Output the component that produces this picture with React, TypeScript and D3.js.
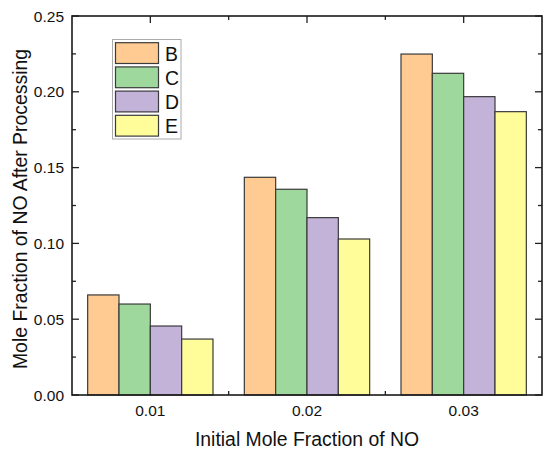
import React from "react";
import * as d3 from "d3";

const categories = [0.01, 0.02, 0.03];
const categoryLabels = ["0.01", "0.02", "0.03"];
const seriesNames = ["B", "C", "D", "E"];
const seriesB = [0.066, 0.1436, 0.2249];
const seriesC = [0.060, 0.1357, 0.2122];
const seriesD = [0.0455, 0.117, 0.1968];
const seriesE = [0.0369, 0.1029, 0.1869];
const seriesColors = ["#FFCB92", "#9FD89C", "#C3B3D9", "#FFFD9A"];
const yMajorTicks = [0, 0.05, 0.1, 0.15, 0.2, 0.25];
const yMinorTicks = [0.025, 0.075, 0.125, 0.175, 0.225];
const xMinorTicks = [0.015, 0.025];

const W = 550;
const H = 455;
const left = 72;
const right = 542;
const top = 16;
const bottom = 395;
const font = "Arial, 'Liberation Sans', Helvetica, sans-serif";

export default function App() {
  const series = [seriesB, seriesC, seriesD, seriesE];
  const x = d3.scaleLinear().domain([0.005, 0.035]).range([left, right]);
  const y = d3.scaleLinear().domain([0, 0.25]).range([bottom, top]);
  const groupW = 0.008;
  const barW = groupW / series.length;
  const fmt = d3.format(".2f");
  const major = 7;
  const minor = 4;

  return (
    <svg
      width={W}
      height={H}
      style={{ position: "absolute", left: 0, top: 0, background: "#fff" }}
      fontFamily={font}
    >
      <rect x={0} y={0} width={W} height={H} fill="#fff" />
      {/* ticks */}
      <g stroke="#222" strokeWidth={1.3}>
        {yMajorTicks.map((t) => (
          <g key={"ym" + t}>
            <line x1={left} x2={left + major} y1={y(t)} y2={y(t)} />
            <line x1={right} x2={right - major} y1={y(t)} y2={y(t)} />
          </g>
        ))}
        {yMinorTicks.map((t) => (
          <g key={"yn" + t}>
            <line x1={left} x2={left + minor} y1={y(t)} y2={y(t)} />
            <line x1={right} x2={right - minor} y1={y(t)} y2={y(t)} />
          </g>
        ))}
        {categories.map((c) => (
          <g key={"xm" + c}>
            <line x1={x(c)} x2={x(c)} y1={top} y2={top + major} />
            <line x1={x(c)} x2={x(c)} y1={bottom} y2={bottom - major} />
          </g>
        ))}
        {xMinorTicks.map((c) => (
          <g key={"xn" + c}>
            <line x1={x(c)} x2={x(c)} y1={top} y2={top + minor} />
            <line x1={x(c)} x2={x(c)} y1={bottom} y2={bottom - minor} />
          </g>
        ))}
      </g>
      {/* bars */}
      {series.map((vals, si) =>
        vals.map((v, ci) => {
          const x0 = x(categories[ci] - groupW / 2 + si * barW);
          const x1 = x(categories[ci] - groupW / 2 + (si + 1) * barW);
          return (
            <rect
              key={si + "-" + ci}
              x={x0}
              y={y(v)}
              width={x1 - x0}
              height={y(0) - y(v)}
              fill={seriesColors[si]}
              stroke="#3a3a3a"
              strokeWidth={1.2}
            />
          );
        })
      )}
      {/* frame */}
      <rect
        x={left}
        y={top}
        width={right - left}
        height={bottom - top}
        fill="none"
        stroke="#1a1a1a"
        strokeWidth={1.6}
      />
      {/* y tick labels */}
      {yMajorTicks.map((t) => (
        <text
          key={"yl" + t}
          x={left - 8}
          y={y(t)}
          dy="0.36em"
          textAnchor="end"
          fontSize={15.5}
          fill="#111"
        >
          {fmt(t)}
        </text>
      ))}
      {/* x tick labels */}
      {categories.map((c, i) => (
        <text
          key={"xl" + c}
          x={x(c)}
          y={416}
          textAnchor="middle"
          fontSize={15.5}
          fill="#111"
        >
          {categoryLabels[i]}
        </text>
      ))}
      {/* axis titles */}
      <text x={307} y={446} textAnchor="middle" fontSize={19.4} fill="#111">
        Initial Mole Fraction of NO
      </text>
      <text
        transform={`translate(26.7, 209) rotate(-90)`}
        textAnchor="middle"
        fontSize={19.4}
        fill="#111"
      >
        Mole Fraction of NO After Processing
      </text>
      {/* legend */}
      <rect x={112.5} y={39.5} width={68.5} height={99.5} fill="#fff" stroke="#aaa" strokeWidth={1} />
      {seriesNames.map((n, i) => (
        <g key={"lg" + n}>
          <rect
            x={115.5}
            y={42.7 + i * 24.2}
            width={43}
            height={20.8}
            fill={seriesColors[i]}
            stroke="#3a3a3a"
            strokeWidth={1.2}
          />
          <text x={165} y={60.5 + i * 24.2} fontSize={19.4} fill="#111">
            {n}
          </text>
        </g>
      ))}
    </svg>
  );
}
